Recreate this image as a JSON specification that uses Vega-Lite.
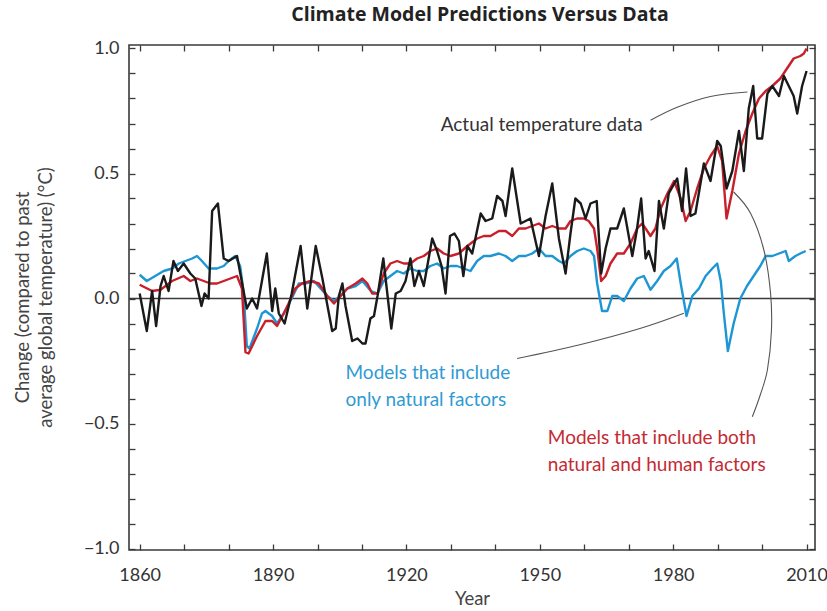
{
  "$schema": "https://vega.github.io/schema/vega-lite/v6.json",
  "autosize": "none",
  "width": 686,
  "height": 505,
  "padding": {"left": 129, "top": 45, "right": 12, "bottom": 61},
  "background": "white",
  "config": {
    "view": {"stroke": "#3a3a3a", "strokeWidth": 1.6},
    "font": "Lato",
    "axis": {"domain": false, "grid": false, "ticks": true, "tickColor": "#3a3a3a", "tickWidth": 1.3, "tickSize": 6, "offset": -6, "labelFont": "Lato", "labelFontSize": 18, "labelColor": "#333", "titleFont": "Lato", "titleFontWeight": "normal", "titleColor": "#444", "titleFontSize": 18.5}
  },
  "title": {"text": "Climate Model Predictions Versus Data", "font": "Open Sans", "fontSize": 19.5, "fontWeight": "bold", "color": "#222", "anchor": "middle", "offset": 14, "dx": 8},
  "datasets": {
    "black": [
      {"year":1860.0,"value":0.02},{"year":1861.6,"value":-0.13},{"year":1862.8,"value":0.03},{"year":1863.7,"value":-0.11},{"year":1864.7,"value":0.05},{"year":1865.4,"value":0.09},{"year":1866.5,"value":0.03},{"year":1867.6,"value":0.15},{"year":1868.6,"value":0.11},{"year":1869.9,"value":0.14},{"year":1871.4,"value":0.10},{"year":1872.5,"value":0.08},{"year":1873.9,"value":-0.03},{"year":1874.6,"value":0.02},{"year":1875.5,"value":0.00},{"year":1876.3,"value":0.35},{"year":1877.6,"value":0.38},{"year":1878.9,"value":0.16},{"year":1880.0,"value":0.15},{"year":1881.9,"value":0.17},{"year":1884.1,"value":-0.04},{"year":1885.3,"value":0.00},{"year":1886.4,"value":-0.04},{"year":1887.5,"value":0.07},{"year":1888.6,"value":0.18},{"year":1889.8,"value":-0.05},{"year":1890.5,"value":0.04},{"year":1891.3,"value":-0.06},{"year":1892.6,"value":-0.10},{"year":1894.2,"value":0.02},{"year":1896.2,"value":0.21},{"year":1897.7,"value":-0.04},{"year":1899.6,"value":0.21},{"year":1901.1,"value":0.08},{"year":1903.3,"value":-0.13},{"year":1904.1,"value":-0.12},{"year":1904.8,"value":0.01},{"year":1905.6,"value":0.06},{"year":1906.3,"value":-0.03},{"year":1907.8,"value":-0.17},{"year":1909.0,"value":-0.16},{"year":1910.1,"value":-0.18},{"year":1910.8,"value":-0.18},{"year":1911.9,"value":-0.08},{"year":1912.7,"value":-0.07},{"year":1913.5,"value":0.01},{"year":1914.8,"value":0.16},{"year":1915.7,"value":0.02},{"year":1916.6,"value":-0.12},{"year":1917.6,"value":0.02},{"year":1918.7,"value":0.03},{"year":1919.8,"value":0.07},{"year":1920.9,"value":0.16},{"year":1921.8,"value":0.05},{"year":1922.8,"value":0.11},{"year":1923.9,"value":0.05},{"year":1925.1,"value":0.17},{"year":1925.8,"value":0.24},{"year":1926.9,"value":0.19},{"year":1927.9,"value":0.13},{"year":1928.8,"value":0.02},{"year":1929.8,"value":0.25},{"year":1930.8,"value":0.26},{"year":1931.8,"value":0.23},{"year":1932.8,"value":0.09},{"year":1933.7,"value":0.21},{"year":1934.8,"value":0.18},{"year":1936.7,"value":0.34},{"year":1937.8,"value":0.31},{"year":1939.3,"value":0.32},{"year":1940.4,"value":0.41},{"year":1941.6,"value":0.39},{"year":1942.3,"value":0.33},{"year":1943.8,"value":0.52},{"year":1945.7,"value":0.30},{"year":1946.8,"value":0.31},{"year":1947.9,"value":0.32},{"year":1949.8,"value":0.17},{"year":1951.3,"value":0.33},{"year":1952.8,"value":0.46},{"year":1954.3,"value":0.24},{"year":1955.8,"value":0.10},{"year":1956.9,"value":0.26},{"year":1958.0,"value":0.40},{"year":1959.2,"value":0.38},{"year":1960.3,"value":0.32},{"year":1961.4,"value":0.38},{"year":1962.8,"value":0.39},{"year":1963.8,"value":0.10},{"year":1964.8,"value":0.20},{"year":1965.9,"value":0.28},{"year":1967.4,"value":0.28},{"year":1968.9,"value":0.36},{"year":1970.0,"value":0.25},{"year":1970.8,"value":0.17},{"year":1971.8,"value":0.27},{"year":1972.8,"value":0.40},{"year":1973.8,"value":0.16},{"year":1974.5,"value":0.19},{"year":1975.8,"value":0.11},{"year":1976.8,"value":0.39},{"year":1977.9,"value":0.28},{"year":1979.0,"value":0.42},{"year":1980.9,"value":0.48},{"year":1982.0,"value":0.35},{"year":1982.9,"value":0.52},{"year":1983.9,"value":0.33},{"year":1985.0,"value":0.34},{"year":1986.9,"value":0.54},{"year":1988.4,"value":0.47},{"year":1989.9,"value":0.63},{"year":1990.7,"value":0.61},{"year":1992.0,"value":0.44},{"year":1993.3,"value":0.51},{"year":1994.8,"value":0.67},{"year":1995.9,"value":0.51},{"year":1997.0,"value":0.76},{"year":1998.0,"value":0.85},{"year":1998.9,"value":0.64},{"year":2000.0,"value":0.64},{"year":2001.2,"value":0.82},{"year":2002.3,"value":0.85},{"year":2003.8,"value":0.81},{"year":2004.9,"value":0.89},{"year":2006.0,"value":0.85},{"year":2007.1,"value":0.81},{"year":2007.9,"value":0.74},{"year":2009.0,"value":0.85},{"year":2010.0,"value":0.91}
    ],
    "red": [
      {"year":1860.0,"value":0.055},{"year":1862.8,"value":0.03},{"year":1864.7,"value":0.035},{"year":1867.3,"value":0.07},{"year":1869.9,"value":0.09},{"year":1871.4,"value":0.07},{"year":1872.9,"value":0.08},{"year":1874.4,"value":0.07},{"year":1875.9,"value":0.06},{"year":1877.4,"value":0.06},{"year":1878.9,"value":0.07},{"year":1880.4,"value":0.08},{"year":1881.9,"value":0.09},{"year":1883.0,"value":0.04},{"year":1883.8,"value":-0.215},{"year":1884.5,"value":-0.22},{"year":1886.4,"value":-0.15},{"year":1888.3,"value":-0.09},{"year":1889.8,"value":-0.09},{"year":1890.9,"value":-0.11},{"year":1892.4,"value":-0.06},{"year":1893.5,"value":-0.02},{"year":1895.0,"value":0.04},{"year":1896.5,"value":0.06},{"year":1898.5,"value":0.07},{"year":1900.3,"value":0.06},{"year":1902.2,"value":0.01},{"year":1903.7,"value":-0.02},{"year":1905.2,"value":0.01},{"year":1906.7,"value":0.04},{"year":1908.6,"value":0.06},{"year":1910.1,"value":0.08},{"year":1911.2,"value":0.06},{"year":1912.3,"value":0.02},{"year":1913.5,"value":0.02},{"year":1914.9,"value":0.10},{"year":1916.4,"value":0.14},{"year":1917.9,"value":0.15},{"year":1919.4,"value":0.14},{"year":1920.9,"value":0.14},{"year":1922.4,"value":0.16},{"year":1923.9,"value":0.17},{"year":1925.4,"value":0.19},{"year":1926.9,"value":0.20},{"year":1928.4,"value":0.18},{"year":1929.9,"value":0.17},{"year":1931.8,"value":0.18},{"year":1933.7,"value":0.21},{"year":1935.2,"value":0.23},{"year":1935.9,"value":0.24},{"year":1937.4,"value":0.25},{"year":1938.9,"value":0.25},{"year":1940.8,"value":0.27},{"year":1942.3,"value":0.27},{"year":1943.8,"value":0.25},{"year":1945.3,"value":0.28},{"year":1946.8,"value":0.28},{"year":1948.3,"value":0.29},{"year":1949.8,"value":0.30},{"year":1951.3,"value":0.28},{"year":1952.8,"value":0.29},{"year":1954.3,"value":0.28},{"year":1955.8,"value":0.28},{"year":1956.9,"value":0.31},{"year":1958.4,"value":0.32},{"year":1959.9,"value":0.32},{"year":1961.0,"value":0.31},{"year":1962.2,"value":0.28},{"year":1962.9,"value":0.20},{"year":1963.8,"value":0.07},{"year":1964.8,"value":0.09},{"year":1965.9,"value":0.14},{"year":1967.4,"value":0.18},{"year":1968.9,"value":0.18},{"year":1970.4,"value":0.22},{"year":1971.9,"value":0.28},{"year":1973.0,"value":0.30},{"year":1973.8,"value":0.28},{"year":1974.9,"value":0.25},{"year":1976.0,"value":0.28},{"year":1977.2,"value":0.36},{"year":1978.7,"value":0.42},{"year":1980.2,"value":0.47},{"year":1981.7,"value":0.40},{"year":1982.8,"value":0.31},{"year":1983.9,"value":0.35},{"year":1985.4,"value":0.44},{"year":1986.9,"value":0.52},{"year":1988.4,"value":0.57},{"year":1989.9,"value":0.61},{"year":1991.0,"value":0.55},{"year":1992.0,"value":0.32},{"year":1993.3,"value":0.43},{"year":1994.8,"value":0.58},{"year":1996.3,"value":0.67},{"year":1997.8,"value":0.74},{"year":1999.3,"value":0.80},{"year":2000.8,"value":0.83},{"year":2002.3,"value":0.85},{"year":2004.1,"value":0.88},{"year":2005.6,"value":0.92},{"year":2007.1,"value":0.96},{"year":2008.6,"value":0.97},{"year":2009.4,"value":0.98},{"year":2010.0,"value":1.0}
    ],
    "blue": [
      {"year":1860.0,"value":0.095},{"year":1861.6,"value":0.07},{"year":1863.5,"value":0.09},{"year":1865.4,"value":0.11},{"year":1867.3,"value":0.12},{"year":1868.8,"value":0.14},{"year":1870.3,"value":0.15},{"year":1871.8,"value":0.16},{"year":1872.9,"value":0.17},{"year":1874.0,"value":0.15},{"year":1875.5,"value":0.12},{"year":1877.4,"value":0.12},{"year":1878.9,"value":0.13},{"year":1880.0,"value":0.15},{"year":1881.5,"value":0.17},{"year":1882.6,"value":0.13},{"year":1883.4,"value":0.02},{"year":1884.1,"value":-0.19},{"year":1884.7,"value":-0.20},{"year":1886.4,"value":-0.12},{"year":1887.5,"value":-0.06},{"year":1888.3,"value":-0.05},{"year":1889.8,"value":-0.07},{"year":1890.9,"value":-0.10},{"year":1892.4,"value":-0.06},{"year":1894.2,"value":0.0},{"year":1895.8,"value":0.06},{"year":1897.3,"value":0.06},{"year":1899.2,"value":0.07},{"year":1902.2,"value":0.01},{"year":1903.7,"value":-0.01},{"year":1905.2,"value":0.01},{"year":1906.7,"value":0.04},{"year":1908.6,"value":0.05},{"year":1910.1,"value":0.07},{"year":1912.0,"value":0.03},{"year":1913.5,"value":0.02},{"year":1914.9,"value":0.07},{"year":1916.4,"value":0.09},{"year":1917.9,"value":0.11},{"year":1919.4,"value":0.10},{"year":1920.9,"value":0.12},{"year":1922.4,"value":0.11},{"year":1923.9,"value":0.11},{"year":1925.4,"value":0.13},{"year":1926.9,"value":0.14},{"year":1928.4,"value":0.12},{"year":1929.9,"value":0.13},{"year":1931.4,"value":0.13},{"year":1932.9,"value":0.12},{"year":1934.4,"value":0.11},{"year":1935.9,"value":0.15},{"year":1937.4,"value":0.17},{"year":1938.9,"value":0.17},{"year":1940.8,"value":0.18},{"year":1942.3,"value":0.17},{"year":1943.8,"value":0.15},{"year":1945.3,"value":0.17},{"year":1946.8,"value":0.17},{"year":1948.3,"value":0.18},{"year":1949.8,"value":0.20},{"year":1951.3,"value":0.17},{"year":1952.8,"value":0.17},{"year":1954.3,"value":0.15},{"year":1955.4,"value":0.14},{"year":1956.9,"value":0.17},{"year":1958.4,"value":0.19},{"year":1959.9,"value":0.20},{"year":1961.4,"value":0.19},{"year":1962.2,"value":0.17},{"year":1962.9,"value":0.06},{"year":1964.0,"value":-0.05},{"year":1965.2,"value":-0.05},{"year":1966.3,"value":0.01},{"year":1967.4,"value":0.01},{"year":1968.9,"value":-0.01},{"year":1970.4,"value":0.04},{"year":1971.9,"value":0.08},{"year":1973.4,"value":0.09},{"year":1974.9,"value":0.035},{"year":1976.4,"value":0.07},{"year":1977.9,"value":0.11},{"year":1979.4,"value":0.13},{"year":1980.8,"value":0.16},{"year":1981.7,"value":0.06},{"year":1983.0,"value":-0.07},{"year":1984.3,"value":0.01},{"year":1985.8,"value":0.04},{"year":1987.3,"value":0.09},{"year":1988.8,"value":0.12},{"year":1989.9,"value":0.14},{"year":1990.7,"value":0.07},{"year":1991.4,"value":-0.06},{"year":1992.3,"value":-0.21},{"year":1993.6,"value":-0.10},{"year":1995.1,"value":0.0},{"year":1996.6,"value":0.05},{"year":1998.1,"value":0.09},{"year":1999.6,"value":0.13},{"year":2000.8,"value":0.17},{"year":2002.3,"value":0.17},{"year":2003.8,"value":0.18},{"year":2005.3,"value":0.19},{"year":2006.0,"value":0.15},{"year":2007.5,"value":0.17},{"year":2008.6,"value":0.18},{"year":2009.8,"value":0.19}
    ],
    "connectors": [
      {"id":"a","k":1,"year":1974.9,"value":0.713},{"id":"a","k":2,"year":1980.9,"value":0.765},{"id":"a","k":3,"year":1988.4,"value":0.808},{"id":"a","k":4,"year":1996.7,"value":0.826},
      {"id":"b","k":1,"year":1944.9,"value":-0.24},{"id":"b","k":2,"year":1959.0,"value":-0.185},{"id":"b","k":3,"year":1972.7,"value":-0.119},{"id":"b","k":4,"year":1982.4,"value":-0.059},
      {"id":"c","k":1,"year":1993.6,"value":0.426},{"id":"c","k":2,"year":1997.4,"value":0.341},{"id":"c","k":3,"year":2000.4,"value":0.194},{"id":"c","k":4,"year":2001.9,"value":0.022},{"id":"c","k":5,"year":2002.1,"value":-0.13},{"id":"c","k":6,"year":2001.2,"value":-0.285},{"id":"c","k":7,"year":1999.6,"value":-0.385},{"id":"c","k":8,"year":1997.8,"value":-0.473}
    ],
    "labels": [
      {"text":"Actual temperature data","year":1927.7,"value":0.693,"c":"#333333"},
      {"text":"Models that include","year":1906.3,"value":-0.296,"c":"#2f9bd2"},
      {"text":"only natural factors","year":1906.3,"value":-0.407,"c":"#2f9bd2"},
      {"text":"Models that include both","year":1951.8,"value":-0.557,"c":"#c42a33"},
      {"text":"natural and human factors","year":1951.8,"value":-0.664,"c":"#c42a33"}
    ]
  },
  "resolve": {"axis": {"x": "independent", "y": "independent"}},
  "layer": [
    {
      "data": {"values": [{"v": 0}]},
      "mark": {"type": "rule", "color": "#3a3a3a", "strokeWidth": 1.3},
      "encoding": {"y": {"field": "v", "type": "quantitative", "scale": {"domain": [-1.006, 1.014], "nice": false, "zero": false}, "axis": null}}
    },
    {
      "data": {"name": "blue"},
      "mark": {"type": "line", "color": "#1e96d3", "strokeWidth": 2.4, "strokeJoin": "round"},
      "encoding": {
        "x": {"field": "year", "type": "quantitative", "scale": {"domain": [1857.6, 2011.9], "nice": false, "zero": false},
          "axis": {"orient": "bottom", "values": [1860,1870,1880,1890,1900,1910,1920,1930,1940,1950,1960,1970,1980,1990,2000,2010], "labelExpr": "datum.value % 30 == 0 ? '' + datum.value : ''", "labelPadding": 16, "title": "Year", "titlePadding": 5}},
        "y": {"field": "value", "type": "quantitative", "scale": {"domain": [-1.006, 1.014], "nice": false, "zero": false},
          "axis": {"orient": "left", "values": [-1,-0.9,-0.8,-0.7,-0.6,-0.5,-0.4,-0.3,-0.2,-0.1,0,0.1,0.2,0.3,0.4,0.5,0.6,0.7,0.8,0.9,1], "labelExpr": "abs(datum.value*2 - round(datum.value*2)) < 0.01 ? format(datum.value, '.1f') : ''", "labelPadding": 10,
            "title": ["Change (compared to past", "average global temperature) (°C)"], "titleLineHeight": 23, "titleAngle": -90, "titleX": -113, "titleY": 252, "titleAlign": "center", "titleBaseline": "middle"}}
      }
    },
    {
      "data": {"name": "red"},
      "mark": {"type": "line", "color": "#c8202b", "strokeWidth": 2.4, "strokeJoin": "round"},
      "encoding": {
        "x": {"field": "year", "type": "quantitative", "axis": null},
        "y": {"field": "value", "type": "quantitative", "axis": null}
      }
    },
    {
      "data": {"name": "black"},
      "mark": {"type": "line", "color": "#1a1a1a", "strokeWidth": 2.4, "strokeJoin": "round"},
      "encoding": {
        "x": {"field": "year", "type": "quantitative",
          "axis": {"orient": "top", "values": [1860,1870,1880,1890,1900,1910,1920,1930,1940,1950,1960,1970,1980,1990,2000,2010], "labels": false, "title": null}},
        "y": {"field": "value", "type": "quantitative",
          "axis": {"orient": "right", "values": [-1,-0.9,-0.8,-0.7,-0.6,-0.5,-0.4,-0.3,-0.2,-0.1,0,0.1,0.2,0.3,0.4,0.5,0.6,0.7,0.8,0.9,1], "labels": false, "title": null}}
      }
    },
    {
      "data": {"name": "connectors"},
      "mark": {"type": "line", "color": "#555555", "strokeWidth": 1.1, "interpolate": "cardinal"},
      "encoding": {
        "x": {"field": "year", "type": "quantitative", "axis": null},
        "y": {"field": "value", "type": "quantitative", "axis": null},
        "detail": {"field": "id"},
        "order": {"field": "k"}
      }
    },
    {
      "data": {"name": "labels"},
      "mark": {"type": "text", "font": "Lato", "fontSize": 19, "align": "left", "baseline": "middle"},
      "encoding": {
        "x": {"field": "year", "type": "quantitative", "axis": null},
        "y": {"field": "value", "type": "quantitative", "axis": null},
        "text": {"field": "text"},
        "color": {"field": "c", "type": "nominal", "scale": null}
      }
    }
  ]
}
